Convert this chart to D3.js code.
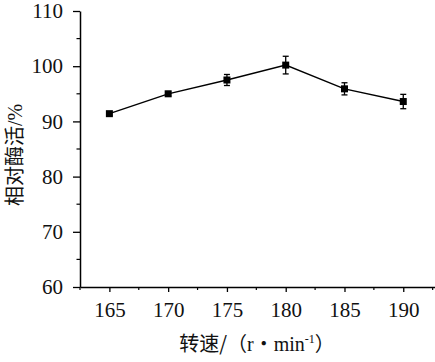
<!DOCTYPE html>
<html>
<head>
<meta charset="utf-8">
<script src="https://cdn.jsdelivr.net/npm/d3@7"></script>
<style>
  body { margin: 0; background: #fff; }
  text { font-family: "Liberation Serif", "Times New Roman", serif; }
</style>
</head>
<body>
<svg id="chart" width="435" height="362"></svg>
<script>
// data
let speeds = [165, 170, 175, 180, 185, 190],
    activity = [91.4, 95.0, 97.5, 100.2, 95.9, 93.6],
    errors = [0.3, 0.4, 1.0, 1.6, 1.1, 1.3];

let yTicks = [60, 70, 80, 90, 100, 110],
    xTicks = [165, 170, 175, 180, 185, 190];

let svg = d3.select("#chart");

let x = d3.scaleLinear().domain([162.5, 192.7]).range([80, 435]),
    y = d3.scaleLinear().domain([60, 110]).range([287, 11]);

// y axis: major + minor ticks on the left
let gy = svg.append("g").attr("transform", "translate(80,0)");
gy.call(d3.axisLeft(y).tickValues(yTicks).tickSize(7).tickSizeOuter(0).tickPadding(10))
  .call(g => g.select(".domain").attr("stroke-width", 1.5));
gy.selectAll(".tick line").attr("stroke-width", 1.3);
gy.selectAll(".tick text").attr("font-size", 21).attr("fill", "#111");
gy.selectAll(".minor").data(d3.range(65, 110, 10)).enter().append("line")
    .attr("x1", -3.5).attr("x2", 0)
    .attr("y1", d => y(d)).attr("y2", d => y(d))
    .attr("stroke", "#000").attr("stroke-width", 1.2);

// x axis
let gx = svg.append("g").attr("transform", "translate(0,287)");
gx.call(d3.axisBottom(x).tickValues(xTicks).tickSize(5).tickSizeOuter(0).tickPadding(10))
  .call(g => g.select(".domain").attr("stroke-width", 1.5));
gx.selectAll(".tick line").attr("stroke-width", 1.3);
gx.selectAll(".tick text").attr("font-size", 21).attr("fill", "#111");
gx.selectAll(".minor").data(d3.range(162.5, 193, 5)).enter().append("line")
    .attr("x1", d => x(d)).attr("x2", d => x(d))
    .attr("y1", 0).attr("y2", 3)
    .attr("stroke", "#000").attr("stroke-width", 1.2);

let pts = speeds.map((s, i) => ({ s: s, v: activity[i], e: errors[i] }));

// connecting line
svg.append("path")
    .datum(pts)
    .attr("fill", "none")
    .attr("stroke", "#000")
    .attr("stroke-width", 1.4)
    .attr("d", d3.line().x(d => x(d.s)).y(d => y(d.v)));

// error bars
let eb = svg.selectAll(".err").data(pts).enter().append("g").attr("class", "err")
    .attr("stroke", "#000").attr("stroke-width", 1.3);
eb.append("line")
    .attr("x1", d => x(d.s)).attr("x2", d => x(d.s))
    .attr("y1", d => y(d.v - d.e)).attr("y2", d => y(d.v + d.e));
eb.append("line")
    .attr("x1", d => x(d.s) - 3).attr("x2", d => x(d.s) + 3)
    .attr("y1", d => y(d.v + d.e)).attr("y2", d => y(d.v + d.e));
eb.append("line")
    .attr("x1", d => x(d.s) - 3).attr("x2", d => x(d.s) + 3)
    .attr("y1", d => y(d.v - d.e)).attr("y2", d => y(d.v - d.e));

// square markers
svg.selectAll(".pt").data(pts).enter().append("rect")
    .attr("x", d => x(d.s) - 3.5)
    .attr("y", d => y(d.v) - 3.5)
    .attr("width", 7).attr("height", 7)
    .attr("fill", "#000");

// axis titles
svg.append("text")
    .attr("transform", "translate(22,155) rotate(-90)")
    .attr("text-anchor", "middle")
    .attr("font-size", 20)
    .attr("fill", "#111")
    .html('<tspan font-family="Noto Sans CJK SC">相对酶活</tspan>/%');

svg.append("text")
    .attr("x", 257).attr("y", 351)
    .attr("text-anchor", "middle")
    .attr("font-size", 20)
    .attr("fill", "#111")
    .html('<tspan font-family="Noto Sans CJK SC">转速/（</tspan>r<tspan font-family="Noto Sans CJK SC">•</tspan>min<tspan font-size="12" dy="-8">-1</tspan><tspan font-family="Noto Sans CJK SC" dy="8">）</tspan>');
</script>
</body>
</html>
